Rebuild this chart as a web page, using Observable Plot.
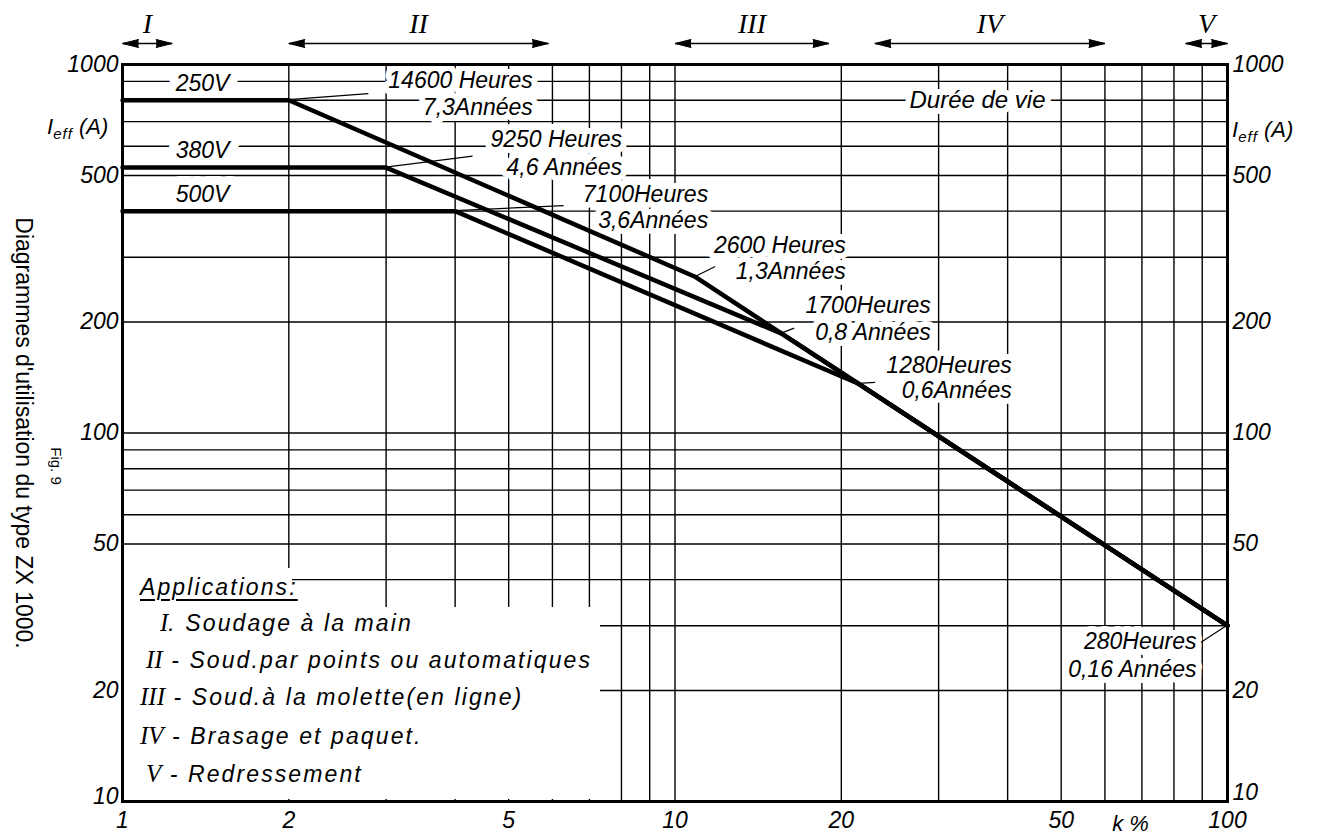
<!DOCTYPE html>
<html><head><meta charset="utf-8">
<script src="https://cdn.jsdelivr.net/npm/d3@7"></script>
<script src="https://cdn.jsdelivr.net/npm/@observablehq/plot@0.6"></script>
<style>
body{margin:0;background:#fff}
#wrap{position:relative;width:1319px;height:840px;overflow:hidden;background:#fff}
.ov{position:absolute;font-family:"Liberation Sans",sans-serif;font-style:italic;color:#000;white-space:nowrap}
.box{position:absolute;background:#fff}
.leg{font-size:23px;line-height:26px;letter-spacing:2.1px}
.rn{font-family:"Liberation Serif",serif;letter-spacing:0;font-size:25px}
</style></head><body><div id="wrap"></div>
<script>
// ---- data ----
const kTicks = [1,2,3,4,5,6,7,8,9,10,20,30,40,50,60,70,80,90,100];
const iTicks = [10,20,30,40,50,60,70,80,90,100,200,300,400,500,600,700,800,900,1000];
const kLabels = [1,2,5,10,20,50,100];
const iLabels = [10,20,50,100,200,500,1000];

const seriesNames = ["250V","380V","500V"];
const k250 = [1,2,10.9,15.6,21.5,100];
const i250 = [800,800,265,186,136,30];
const k380 = [1,3,15.6,21.5,100];
const i380 = [525,525,186,136,30];
const k500 = [1,4,21.5,100];
const i500 = [400,400,136,30];

const lifeK = [2,3,4,10.9,15.6,21.5,100];
const lifeI = [800,525,400,265,186,136,30];
const lifeHours = ["14600 Heures","9250 Heures","7100Heures","2600 Heures","1700Heures","1280Heures","280Heures"];
const lifeYears = ["7,3Années","4,6 Années","3,6Années","1,3Années","0,8 Années","0,6Années","0,16 Années"];

const appNumerals = ["I","II","III","IV","V"];
const appStart = [1,2,10,23,84];
const appEnd = [1.23,5.9,19,60,100];
const appNames = ["Soudage à la main","Soud.par points ou automatiques","Soud.à la molette(en ligne)","Brasage et paquet.","Redressement"];

const titleText = "Diagrammes d'utilisation du type ZX 1000.";
const figText = "Fig. 9";
const lifeTitle = "Durée de vie";
const xTitle = "k %";
const legendTitle = "Applications:";

// ---- build ----
const FONT = "Liberation Sans";
const toRows = (ks, is) => ks.map((k, i) => ({k, I: is[i]}));
const series = [toRows(k250, i250), toRows(k380, i380), toRows(k500, i500)];
const lifePts = lifeK.map((k, i) => ({k, I: lifeI[i], h: lifeHours[i], y: lifeYears[i]}));

// layout offsets (pixels) for the life annotations
const annLayout = [
  {dx:244, hy:-20, yy:7,  lx:80,  ly:-6},
  {dx:236, hy:-28, yy:0,  lx:87,  ly:-11},
  {dx:253, hy:-17, yy:9,  lx:109, ly:-5},
  {dx:150, hy:-31, yy:-5, lx:20,  ly:-10},
  {dx:149, hy:-28, yy:-1, lx:13,  ly:-5},
  {dx:153, hy:-18, yy:7,  lx:17,  ly:-1},
  {dx:-31, hy:16,  yy:44, lx:-26, ly:17}
];

const halos = [], texts = [];
const halo = {fill:"white", stroke:"white", strokeWidth:12, strokeLinejoin:"round"};
lifePts.forEach((p, i) => {
  const L = annLayout[i];
  for (const [key, dy] of [["h", L.hy], ["y", L.yy]]) {
    const o = {x:"k", y:"I", text:key, dx:L.dx, dy, textAnchor:"end", lineAnchor:"middle", fontSize:23, fontStyle:"italic", ariaLabel:"ann"};
    halos.push(Plot.text([p], {...o, ...halo, ariaLabel:"annhalo"}));
    texts.push(Plot.text([p], o));
  }
});
// series labels
const serLab = series.map((s, i) => ({k: s[0].k, I: s[0].I, name: seriesNames[i]}));
const serOpts = {x:"k", y:"I", text:"name", dx:80, dy:-17, lineAnchor:"middle", fontSize:23, fontStyle:"italic", ariaLabel:"ann"};
halos.push(Plot.text(serLab, {...serOpts, ...halo, strokeWidth:18, ariaLabel:"annhalo"}));
texts.push(Plot.text(serLab, serOpts));
// durée de vie
const dvOpts = {frameAnchor:"top-right", dx:-250, dy:36, textAnchor:"middle", lineAnchor:"middle", fontSize:24, fontStyle:"italic", ariaLabel:"ann"};
halos.push(Plot.text([lifeTitle], {...dvOpts, ...halo, strokeWidth:12, ariaLabel:"annhalo"}));
texts.push(Plot.text([lifeTitle], dvOpts));

const apps = appNumerals.map((n, i) => ({n, a: appStart[i], b: appEnd[i], m: Math.sqrt(appStart[i]*appEnd[i])}));
const axisText = {fontSize: 22, fontStyle: "italic", fontFamily: FONT, label: null, tickSize: 0, tickFormat: d => `${d}`};

const chart = Plot.plot({
  width: 1319, height: 840,
  marginLeft: 122, marginRight: 92, marginTop: 64, marginBottom: 39,
  style: {fontFamily: FONT, fontSize: "22px", fontStyle: "italic", background: "white", overflow: "visible"},
  x: {type: "log", domain: [1, 100], label: null},
  y: {type: "log", domain: [10, 1000], label: null},
  marks: [
    Plot.gridX(kTicks, {stroke: "black", strokeOpacity: 1, strokeWidth: 1.4}),
    Plot.gridY(iTicks, {stroke: "black", strokeOpacity: 1, strokeWidth: 1.4}),
    ...halos,
    Plot.frame({stroke: "black", strokeWidth: 3}),
    ...series.map(s => Plot.line(s, {x: "k", y: "I", stroke: "black", strokeWidth: 4.5, strokeLinejoin: "miter"})),
    ...texts,
    Plot.axisX(kLabels, {...axisText, anchor: "bottom", tickPadding: 10}),
    Plot.axisY(iLabels.filter(d => d > 10), {...axisText, anchor: "left", tickPadding: 4}),
    Plot.axisY(iLabels.filter(d => d > 10), {...axisText, anchor: "right", tickPadding: 5}),
    Plot.axisY(iLabels.filter(d => d === 10), {...axisText, anchor: "left", tickPadding: 4, dy: -5}),
    Plot.axisY(iLabels.filter(d => d === 10), {...axisText, anchor: "right", tickPadding: 5, dy: -9}),
    Plot.text([xTitle], {frameAnchor: "bottom-right", dx: -97, dy: 22, textAnchor: "middle", lineAnchor: "middle", fontSize: 22, fontStyle: "italic", ariaLabel: "ann"}),
    // application ranges on top
    Plot.link(apps, {x1: "a", x2: "b", y1: () => 1000, y2: () => 1000, dy: -21, stroke: "black", strokeWidth: 1.6}),
    Plot.vector(apps, {x: "b", y: () => 1000, dy: -21, rotate: 90, length: 16, r: 4, shape: "spike", anchor: "end", fill: "black", stroke: "black", strokeWidth: 1}),
    Plot.vector(apps, {x: "a", y: () => 1000, dy: -21, rotate: -90, length: 16, r: 4, shape: "spike", anchor: "end", fill: "black", stroke: "black", strokeWidth: 1}),
    Plot.text(apps, {x: "m", text: "n", frameAnchor: "top", dy: -40, lineAnchor: "middle", fontSize: 28, fontFamily: "Liberation Serif", fontStyle: "italic"}),
    // vertical title
    Plot.text([titleText], {frameAnchor: "left", dx: -99, rotate: 90, textAnchor: "middle", lineAnchor: "middle", fontSize: 23, fontStyle: "normal", ariaLabel: "title"}),
    Plot.text([figText], {frameAnchor: "left", dx: -67, dy: 33, rotate: 90, textAnchor: "middle", lineAnchor: "middle", fontSize: 15, fontStyle: "normal"})
  ]
});

// lettering styles
chart.querySelectorAll('g[aria-label="ann"], g[aria-label="annhalo"]').forEach(g => g.style.letterSpacing = "1.8px");
chart.querySelectorAll('g[aria-label="title"] text').forEach(t => t.style.letterSpacing = "0.8px");
chart.querySelectorAll('g[aria-label$="tick label"]').forEach(g => {
  g.style.fontStyle = "italic"; g.style.fontSize = "23px"; g.style.fontFamily = FONT;
  g.querySelectorAll("text").forEach(t => { t.style.fontStyle = "italic"; t.style.fontSize = "23px"; });
});

// leader lines through the plot's scales
const sx = chart.scale("x"), sy = chart.scale("y");
const lg = d3.select(chart).append("g").attr("stroke", "black").attr("stroke-width", 1.2);
lifePts.forEach((p, i) => {
  const x = sx.apply(p.k), y = sy.apply(p.I), L = annLayout[i];
  lg.append("line").attr("x1", x).attr("y1", y).attr("x2", x + L.lx).attr("y2", y + L.ly);
});

const wrap = document.getElementById("wrap");
wrap.append(chart);

function add(cls, style, html) {
  const d = document.createElement("div");
  d.className = cls; d.style.cssText = style; d.innerHTML = html;
  wrap.append(d); return d;
}
// Ieff (A) labels
const ieff = 'I<span style="font-size:15px;position:relative;top:5px;letter-spacing:1px">eff</span> (A)';
add("ov", "left:47px;top:114px;font-size:22px", ieff);
add("ov", "left:1232px;top:117px;font-size:22px", ieff);

// legend box
add("box", "left:124px;top:568px;width:168px;height:50px", "");
add("box", "left:124px;top:607px;width:476px;height:192px", "");
add("ov leg", "left:140px;top:574px;text-decoration:underline;text-decoration-thickness:2px;text-underline-offset:4px", legendTitle);
const legLeft = [160,146,140,140,146], legTop = [610,647,684,723,761];
appNumerals.forEach((n, i) => {
  const sep = i === 0 ? ". " : " - ";
  add("ov leg", `left:${legLeft[i]}px;top:${legTop[i]}px`, `<span class="rn">${n}</span>${sep}${appNames[i]}`);
});
</script></body></html>
